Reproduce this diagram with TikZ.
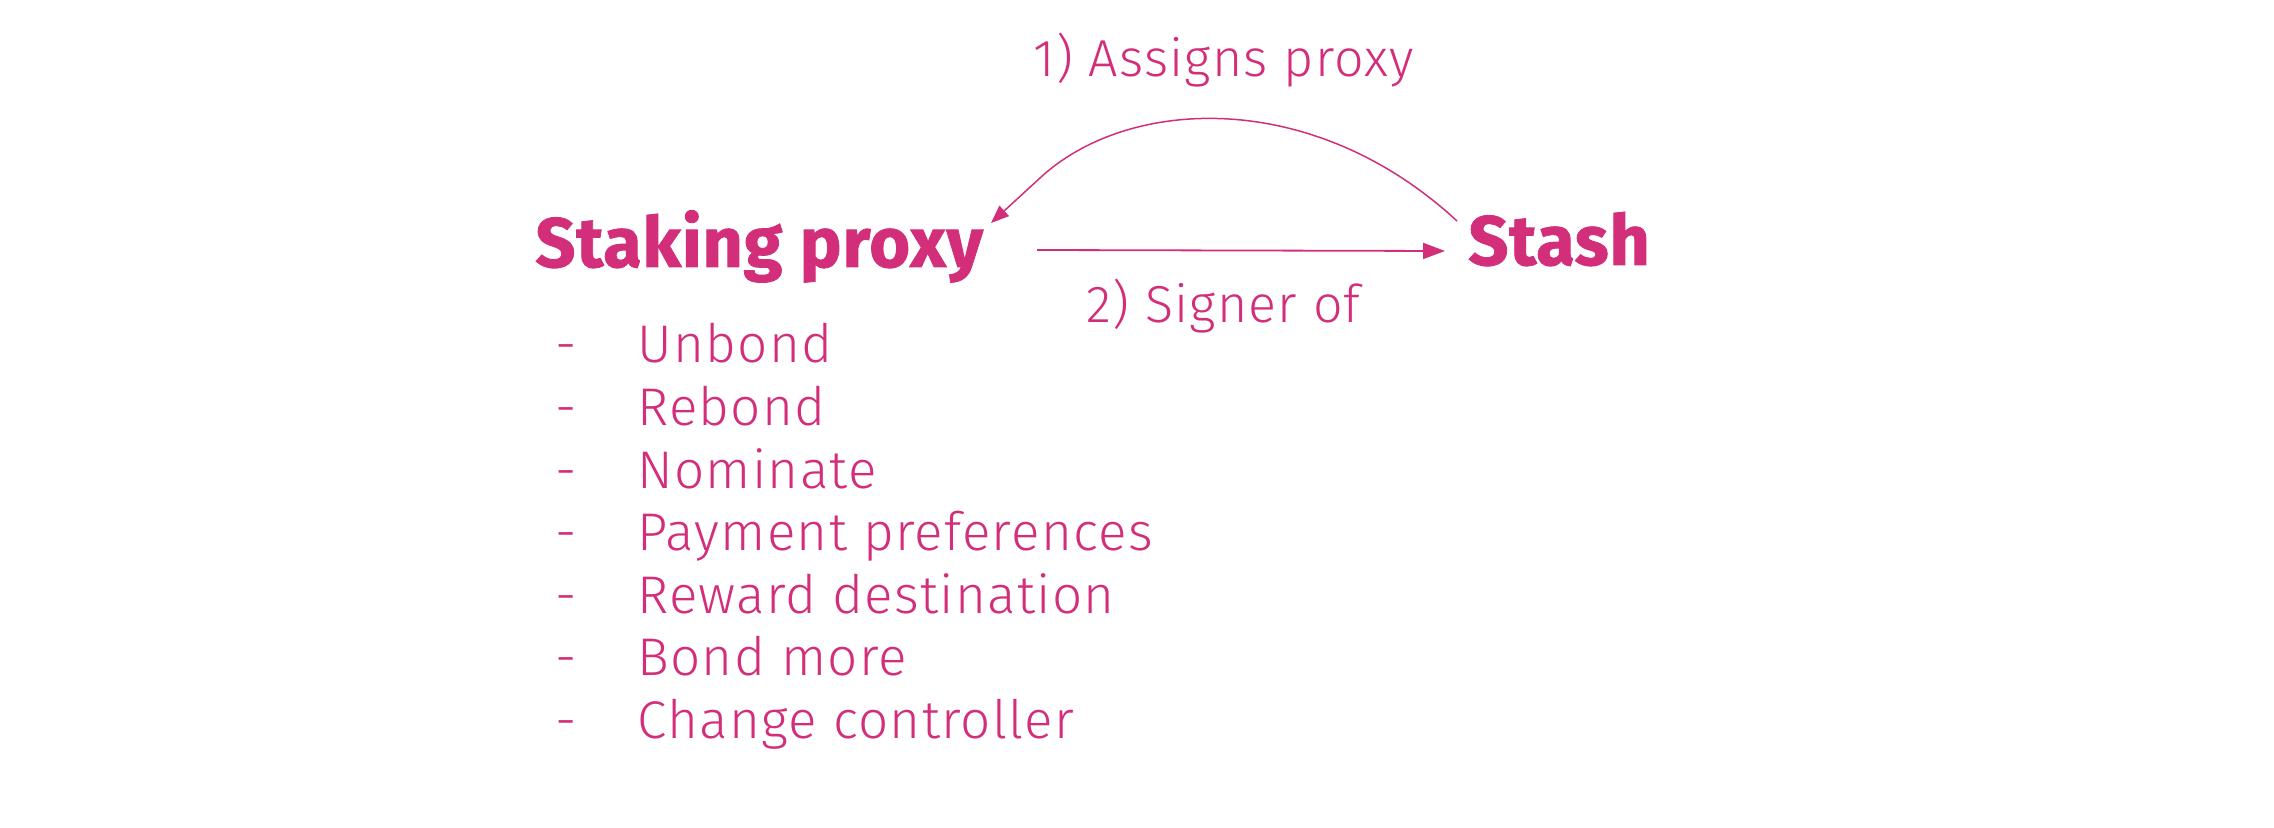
\documentclass[tikz,border=0pt]{standalone}
\usepackage{fontspec}
\setmainfont{Fira Sans Light}[LetterSpace=2.4]
\newfontfamily\heavyfont{Fira Sans}[BoldFeatures={FakeBold=1.2,LetterSpace=1.2}]
\usetikzlibrary{arrows.meta}
\definecolor{pk}{HTML}{D32E7A}
\begin{document}
\begin{tikzpicture}[x=0.5pt,y=-0.5pt,
  title/.style={anchor=base west,inner sep=0pt,text=pk,font=\heavyfont\bfseries\fontsize{35}{40}\selectfont},
  lbl/.style={anchor=base west,inner sep=0pt,text=pk,font=\fontsize{26}{30}\selectfont},
  item/.style={anchor=base west,inner sep=0pt,text=pk,font=\fontsize{26.5}{30}\selectfont},
  conn/.style={draw=pk,line width=0.9pt,-{Triangle[length=11pt,width=8pt]}},
  curv/.style={draw=pk,line width=0.75pt,-{Triangle[length=9pt,width=7pt]}}]
\useasboundingbox (0,0) rectangle (2274,828);
\node[title] (sp) at (535,267) {Staking proxy};
\node[title] (st) at (1468,265) {Stash};
\node[lbl] (l1) at (1033,77) {1) Assigns proxy};
\node[lbl] (l2) at (1086,323) {2) Signer of};
\foreach \t [count=\i from 0] in {Unbond,Rebond,Nominate,Payment preferences,Reward destination,Bond more,Change controller}{
  \node[item] (d\i) at (555,363+62.5*\i) {-};
  \node[item] (it\i) at (637,363+62.5*\i) {\t};
}
\coordinate (a1) at (1037,250);
\coordinate (a2) at (1445,251);
\coordinate (c1) at (1457,221);
\coordinate (ck) at (1040,178);
\coordinate (c2) at (991,223);
\draw[conn] (a1) -- (a2);
\draw[curv] (c1) .. controls (1312,87) and (1127,97) .. (ck) -- (c2);
\end{tikzpicture}
\end{document}
